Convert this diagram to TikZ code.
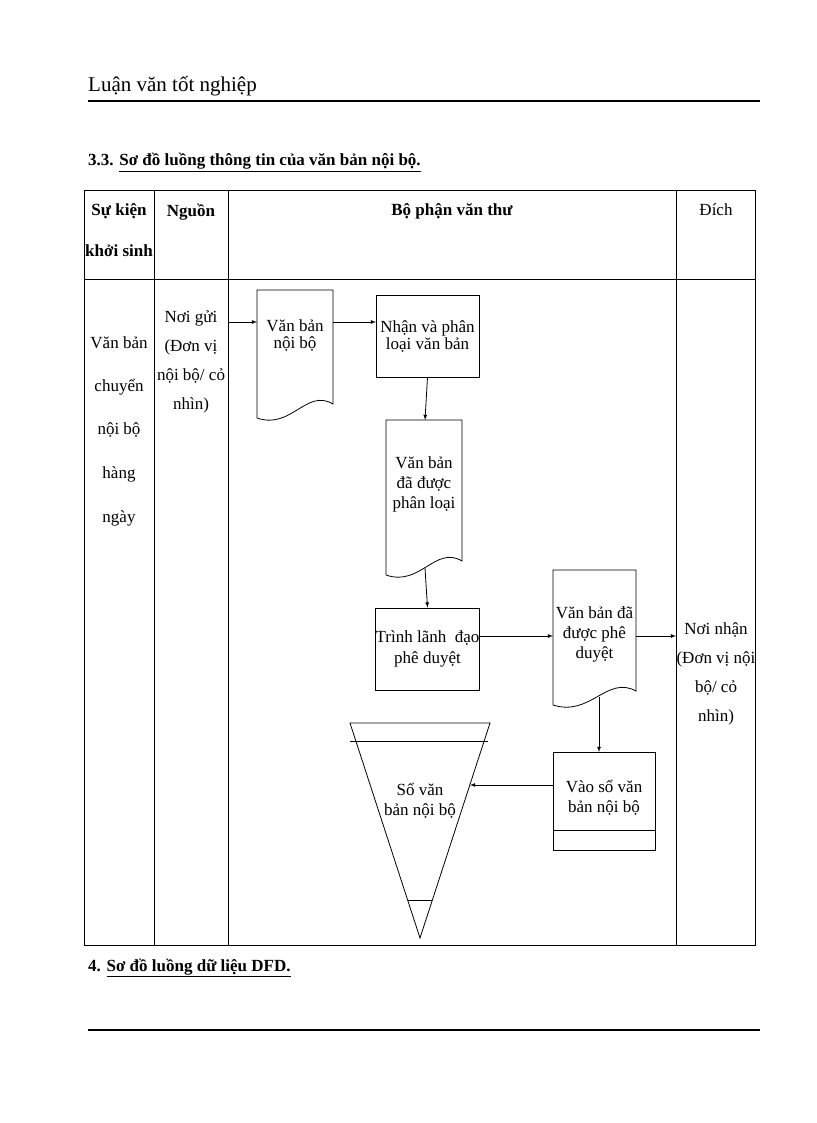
\documentclass[tikz,border=0pt]{standalone}
\usepackage{fontspec}
\setmainfont{Liberation Serif}
\begin{document}
\begin{tikzpicture}[x=1pt,y=-1pt,
  txt/.style={font=\fontsize{17}{17}\selectfont,inner sep=0pt,align=center},
  lbl/.style={txt,text depth=0pt},
  boxn/.style={draw,line width=0.8pt,rectangle,inner sep=0pt},
  ghost/.style={rectangle,inner sep=0pt},
  arr/.style={-latex,line width=0.8pt},
  ln/.style={line width=0.8pt}]
\useasboundingbox (0,0) rectangle (816,1123);
\newcommand\docwave[4]{\draw[ln] (#1,#2)--(#3,#2)--(#3,#4-14) .. controls (#3-0.35*#3+0.35*#1,#4-30) and (#1+0.45*#3-0.45*#1,#4+12) .. (#1,#4)--cycle;}
% header
\node[anchor=base west,font=\fontsize{21}{21}\selectfont,inner sep=0pt] (hdr) at (88,92) {Luận văn tốt nghiệp};
\draw[line width=1.2pt] (88,101)--(760,101);
\node[anchor=base west,font=\bfseries\fontsize{17}{17}\selectfont,inner sep=0pt] (t33) at (88,166) {3.3. \underline{Sơ đồ luồng thông tin của văn bản nội bộ.}};
% table
\draw[ln] (84,190) rectangle (755,945);
\draw[ln] (84,279)--(755,279);
\foreach \x in {154,228,676} \draw[ln] (\x,190)--(\x,945);
\node[lbl,font=\bfseries\fontsize{17}{17}\selectfont] (h1) at (119,210) {Sự kiện};
\node[lbl,font=\bfseries\fontsize{17}{17}\selectfont] (h1b) at (119,251) {khởi sinh};
\node[lbl,font=\bfseries\fontsize{17}{17}\selectfont] (h2) at (191,210) {Nguồn};
\node[lbl,font=\bfseries\fontsize{17}{17}\selectfont] (h3) at (452,210) {Bộ phận văn thư};
\node[lbl] (h4) at (716,210) {Đích};
% col1
\foreach \t/\y in {Văn bản/343,chuyển/385,nội bộ/429,hàng/473,ngày/517} \node[lbl] at (119,\y) {\t};
% col2
\node[txt,align=center] (src) at (191,362) {Nơi gửi\\[12pt](Đơn vị\\[12pt]nội bộ/ cỏ\\[12pt]nhìn)};
\coordinate (srcr) at (228,322);
% col4
\node[txt,align=center] (dst) at (716,674) {Nơi nhận\\[12pt](Đơn vị nội\\[12pt]bộ/ cỏ\\[12pt]nhìn)};
\coordinate (dstl) at (676,636);
% doc1
\docwave{257}{290}{333}{418}
\node[ghost,minimum width=76,minimum height=128] (d1) at (295,354) {};
\node[txt] at (295,336) {Văn bản\\nội bộ};
% box1
\node[boxn,minimum width=103,minimum height=82,txt] (b1) at (427.5,336) {Nhận và phân\\loại văn bản};
% doc2
\docwave{386}{420}{462}{575}
\node[ghost,minimum width=76,minimum height=150] (d2) at (424,495) {};
\node[txt] at (424,484) {Văn bản\\[3pt]đã được\\[3pt]phân loại};
% box2
\node[boxn,minimum width=103,minimum height=82,txt] (b2) at (427.5,649) {Trình lãnh\ \ đạo\\[4pt]phê duyệt};
% doc3
\docwave{553}{570}{636}{705}
\node[ghost,minimum width=83,minimum height=127] (d3) at (594.5,633.5) {};
\node[txt] at (594.5,634) {Văn bản đã\\[3pt]được phê\\[3pt]duyệt};
% box3
\node[boxn,minimum width=102,minimum height=98] (b3) at (604,801) {};
\draw[ln] (553,830)--(655,830);
\node[txt] at (604,798) {Vào sổ văn\\[3pt]bản nội bộ};
% triangle store
\draw[ln] (350,723)--(490,723)--(420,938)--cycle;
\draw[ln] (350,741)--(488,741);
\draw[ln] (408,900)--(432,900);
\coordinate (tri) at (470,785);
\node[txt] (st) at (420,801) {Sổ văn\\[3pt]bản nội bộ};
% arrows
\draw[arr] (srcr)--(257,322);
\draw[arr] (333,322)--(376,322);
\draw[arr] (b1.south)--(425,420);
\draw[arr] (425,568)--(b2.north);
\draw[arr] (479,636)--(553,636);
\draw[arr] (636,636)--(dstl);
\draw[arr] (599,697)--(599,752);
\draw[arr] (553,785)--(tri);
% section 4
\node[anchor=base west,font=\bfseries\fontsize{17}{17}\selectfont,inner sep=0pt] (s4) at (88,971) {4. \underline{Sơ đồ luồng dữ liệu DFD.}};
\draw[line width=1.2pt] (88,1030)--(760,1030);
\end{tikzpicture}
\end{document}
